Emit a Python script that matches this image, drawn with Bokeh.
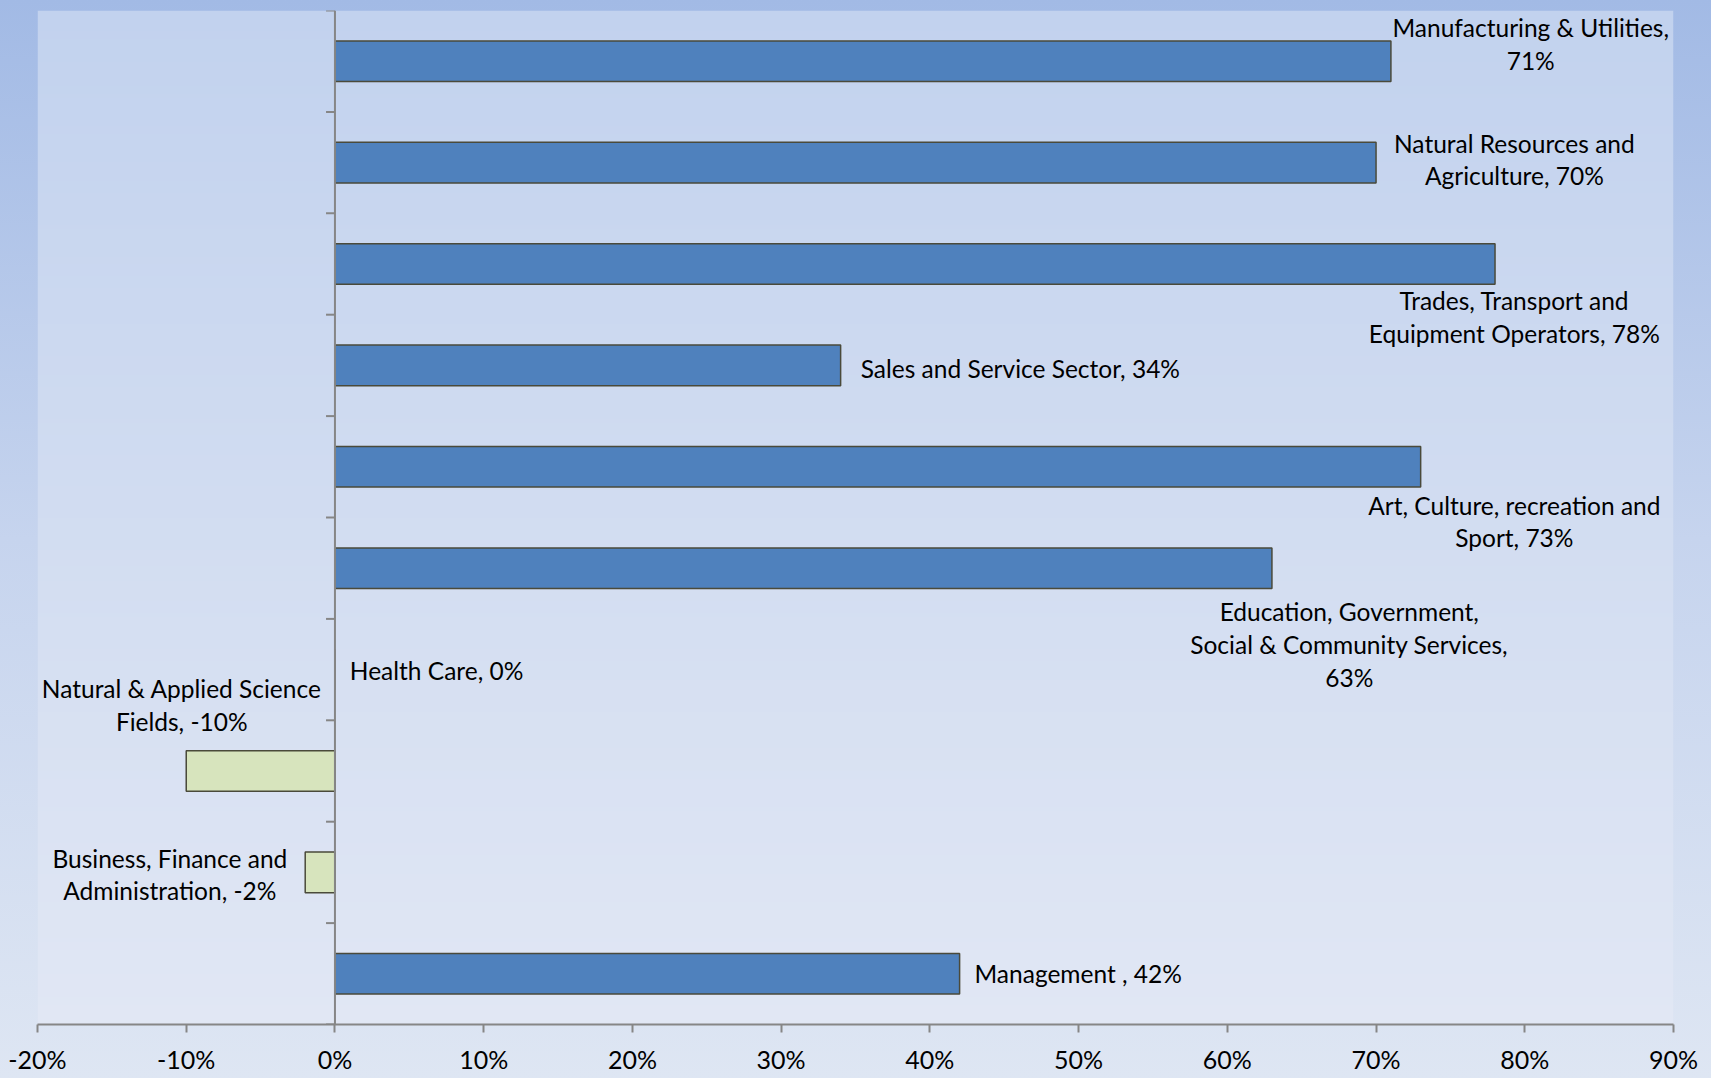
import numpy as np
from bokeh.plotting import figure
from bokeh.models import FixedTicker, PrintfTickFormatter, ColumnDataSource
from bokeh.core.properties import value
from bokeh.embed import file_html
from bokeh.resources import INLINE

# ---- data (bottom to top) ----
categories = [
    "Management",
    "Business, Finance and Administration",
    "Natural & Applied Science Fields",
    "Health Care",
    "Education, Government, Social & Community Services",
    "Art, Culture, recreation and Sport",
    "Sales and Service Sector",
    "Trades, Transport and Equipment Operators",
    "Natural Resources and Agriculture",
    "Manufacturing & Utilities",
]
values = [42, -2, -10, 0, 63, 73, 34, 78, 70, 71]

label_texts = [
    "Management , 42%",
    "Business, Finance and\nAdministration, -2%",
    "Natural & Applied Science\nFields, -10%",
    "Health Care, 0%",
    "Education, Government,\nSocial & Community Services,\n63%",
    "Art, Culture, recreation and\nSport, 73%",
    "Sales and Service Sector, 34%",
    "Trades, Transport and\nEquipment Operators, 78%",
    "Natural Resources and\nAgriculture, 70%",
    "Manufacturing & Utilities,\n71%",
]
# label anchor placement (data units), alignment
label_x = [43.0, -11.1, -10.3, 1.0, 68.2, 79.3, 35.35, 79.3, 79.3, 80.4]
label_y = [0.0, 0.98, 2.65, 2.99, 3.246, 4.46, 5.97, 6.48, 8.03, 9.17]
label_align = ["left", "center", "center", "left", "center", "center", "left", "center", "center", "center"]

x_ticks = [-20, -10, 0, 10, 20, 30, 40, 50, 60, 70, 80, 90]

FONT = "Lato"
POS_COLOR = "#4F81BD"
NEG_COLOR = "#D7E4BD"
OUTLINE = "#4a4a3a"
AXIS_COLOR = "#868686"

ypos = list(range(len(categories)))
colors = [POS_COLOR if v > 0 else NEG_COLOR for v in values]

p = figure(
    width=1711, height=1078,
    x_range=(-20, 90), y_range=(-0.5, len(categories) - 0.5),
    output_backend="svg", toolbar_location=None,
    y_axis_location=None,
    min_border_left=37, min_border_right=38, min_border_top=10, min_border_bottom=54,
    styles={"background": "linear-gradient(to bottom, #A2BAE5 0%, #C6D4EE 50%, #DEE6F3 100%)"},
)
p.border_fill_alpha = 0
p.background_fill_alpha = 0
p.outline_line_color = None
p.grid.visible = False

# plot-area gradient background
N = 256
t = np.linspace(0, 1, N)  # 0 bottom -> 1 top
bot = np.array([0xE1, 0xE7, 0xF4])
top = np.array([0xC2, 0xD2, 0xEE])
img = np.empty((N, 1), dtype=np.uint32)
view = img.view(dtype=np.uint8).reshape((N, 1, 4))
for i in range(3):
    view[:, 0, i] = np.round(bot[i] + (top[i] - bot[i]) * t).astype(np.uint8)
view[:, 0, 3] = 255
p.image_rgba(image=[img], x=-20, y=-0.5, dw=110, dh=len(categories))

src = ColumnDataSource(dict(y=ypos, v=values, c=colors, cat=categories))
p.hbar(y="y", left=0, right="v", height=0.4, source=src,
       fill_color="c", line_color=OUTLINE, line_width=1.5)

# category axis at x = 0 with boundary ticks
bounds = [k - 0.5 for k in range(len(categories) + 1)]
p.segment(x0=[0], y0=[-0.5], x1=[0], y1=[len(categories) - 0.5],
          line_color=AXIS_COLOR, line_width=2)
p.segment(x0=[0] * len(bounds), y0=bounds, x1=[-0.6] * len(bounds), y1=bounds,
          line_color=AXIS_COLOR, line_width=2)

lsrc = ColumnDataSource(dict(x=label_x, y=label_y, t=label_texts, a=label_align))
p.text(x="x", y="y", text="t", text_align="a", text_baseline="middle", source=lsrc,
       text_font=value(FONT), text_font_size="24.5px", text_color="#000000",
       text_line_height=1.13)

ax = p.xaxis[0]
ax.ticker = FixedTicker(ticks=x_ticks)
ax.formatter = PrintfTickFormatter(format="%d%%")
ax.axis_line_color = AXIS_COLOR
ax.axis_line_width = 2
ax.major_tick_line_color = AXIS_COLOR
ax.major_tick_line_width = 2
ax.major_tick_out = 8
ax.major_tick_in = 0
ax.minor_tick_line_color = None
ax.major_label_text_font = FONT
ax.major_label_text_font_size = "25px"
ax.major_label_text_color = "#000000"
ax.major_label_standoff = 11

open("out.html", "w").write(file_html(p, INLINE))
